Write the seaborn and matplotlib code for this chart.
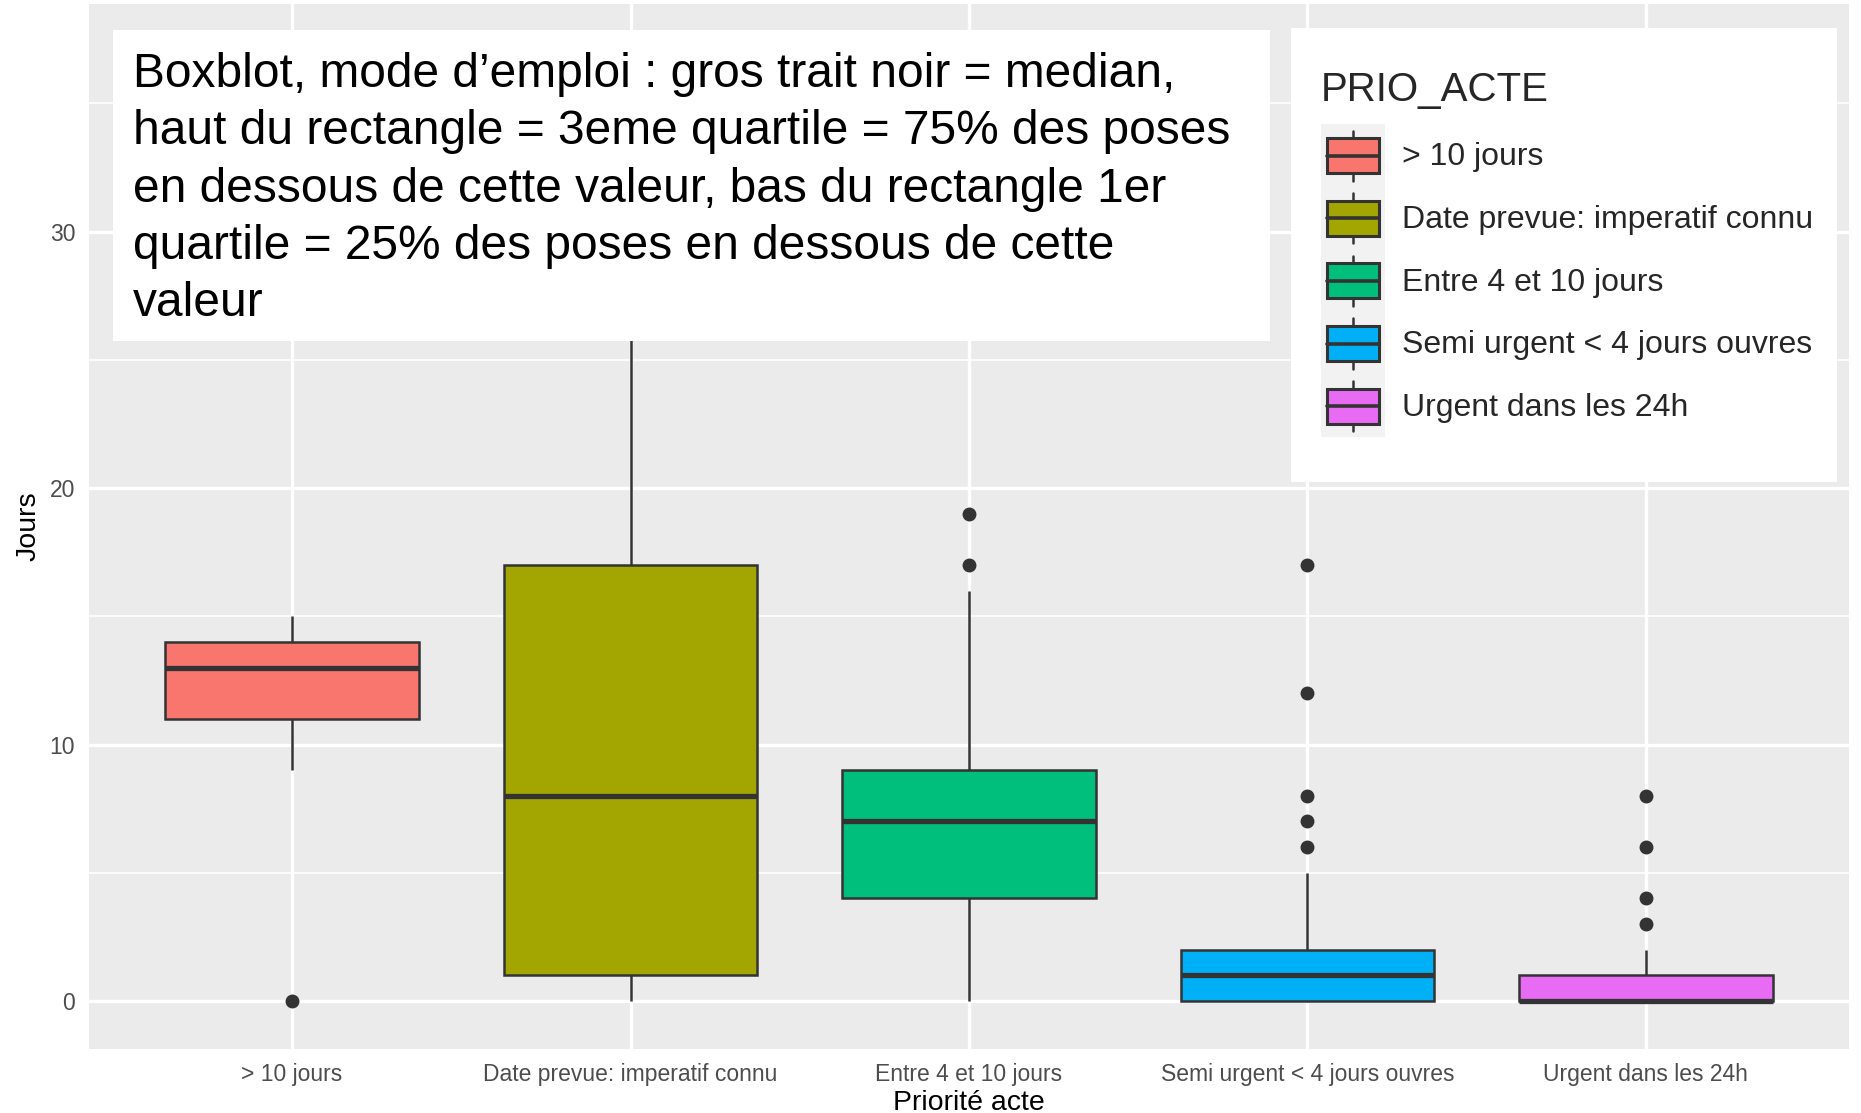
import pandas as pd
import matplotlib
matplotlib.use("Agg")
import matplotlib.pyplot as plt
from matplotlib.patches import Rectangle, Patch
from matplotlib.lines import Line2D
from matplotlib.legend_handler import HandlerBase
from matplotlib.ticker import MultipleLocator
import seaborn as sns

# categories (PRIO_ACTE) and raw delays in days, read from the box/whisker/outlier positions
categories = ["> 10 jours", "Date prevue: imperatif connu", "Entre 4 et 10 jours",
              "Semi urgent < 4 jours ouvres", "Urgent dans les 24h"]
jours_sup10 = [0, 9, 11, 11, 13, 13, 14, 14, 14, 15]
jours_date_prevue = [0, 1, 1, 4, 8, 12, 17, 25, 37]
jours_entre_4_10 = [0, 2, 3, 4, 5, 6, 7, 8, 9, 9, 16, 17, 19]
jours_semi_urgent = [0, 0, 0, 0, 0, 0, 0, 1, 1, 1, 1, 1, 1,
                     2, 2, 2, 2, 2, 2, 5, 6, 7, 8, 12, 17]
jours_urgent = [0, 0, 0, 0, 0, 0, 0, 0, 0, 0, 0, 1, 1, 1, 1, 1, 2, 3, 4, 6, 8]
colors = ["#F8766D", "#A3A500", "#00BF7D", "#00B0F6", "#E76BF3"]

note = ("Boxblot, mode d\u2019emploi : gros trait noir = median,\n"
        "haut du rectangle = 3eme quartile = 75% des poses\n"
        "en dessous de cette valeur, bas du rectangle 1er\n"
        "quartile = 25% des poses en dessous de cette\n"
        "valeur")


class BoxKey(HandlerBase):
    def create_artists(self, legend, orig_handle, xdescent, ydescent,
                       width, height, fontsize, trans):
        x0, y0 = -xdescent, -ydescent
        cx = x0 + width / 2
        bg = Rectangle((x0, y0), width, height, facecolor="#F2F2F2",
                       edgecolor="none", transform=trans)
        wh = Line2D([cx, cx], [y0 + 0.1 * height, y0 + 0.9 * height],
                    color="#333333", lw=1.8, transform=trans)
        box = Rectangle((x0 + 0.1 * width, y0 + 0.22 * height), 0.8 * width,
                        0.56 * height, facecolor=orig_handle.get_facecolor(),
                        edgecolor="#333333", lw=2.2, transform=trans)
        med = Line2D([x0 + 0.1 * width, x0 + 0.9 * width],
                     [y0 + height / 2, y0 + height / 2],
                     color="#333333", lw=2.6, transform=trans)
        return [bg, wh, box, med]


def main():
    series = [jours_sup10, jours_date_prevue, jours_entre_4_10,
              jours_semi_urgent, jours_urgent]
    rows = []
    for cat, vals in zip(categories, series):
        for v in vals:
            rows.append({"PRIO_ACTE": cat, "Jours": v})
    df = pd.DataFrame(rows)

    sns.set_theme(style="darkgrid", rc={
        "axes.facecolor": "#EBEBEB",
        "grid.color": "white",
        "figure.facecolor": "white",
    })
    plt.rcParams["font.family"] = ["Liberation Sans", "DejaVu Sans"]

    fig = plt.figure(figsize=(18.61, 11.13), dpi=100)
    ax = fig.add_axes([89 / 1861, 1 - 1049 / 1113, (1849 - 89) / 1861, (1049 - 4) / 1113])

    sns.boxplot(data=df, x="PRIO_ACTE", y="Jours", hue="PRIO_ACTE",
                order=categories, hue_order=categories, palette=colors,
                saturation=1, width=0.75, linecolor="#333333", linewidth=1.8,
                whis=1.5, showcaps=False, legend=False,
                medianprops=dict(linewidth=3.8, color="#333333"),
                flierprops=dict(marker="o", markerfacecolor="#333333",
                                markeredgecolor="#333333", markersize=9),
                ax=ax)

    ax.set_xlim(-0.6, 4.6)
    ax.set_ylim(-1.87, 38.87)
    ax.yaxis.set_major_locator(MultipleLocator(10))
    ax.yaxis.set_minor_locator(MultipleLocator(5))
    ax.grid(which="major", color="white", linewidth=2.4)
    ax.grid(which="minor", axis="y", color="white", linewidth=1.2)
    ax.set_axisbelow(True)
    for s in ax.spines.values():
        s.set_visible(False)
    ax.tick_params(axis="both", which="major", length=6, width=1.5,
                   color="#333333", labelcolor="#4D4D4D", labelsize=16.5, pad=4)
    ax.tick_params(axis="both", which="minor", length=0)
    ax.set_xlabel("Priorit\u00e9 acte", fontsize=20.5, color="black", labelpad=3)
    ax.set_ylabel("Jours", fontsize=20.5, color="black", labelpad=6)

    # annotation box laid over the panel
    fig.patches.append(Rectangle((113 / 1861, 1 - 341 / 1113), (1270 - 113) / 1861,
                                 (341 - 30) / 1113, transform=fig.transFigure,
                                 facecolor="white", edgecolor="none", zorder=5))
    fig.text(133 / 1861, 1 - 52 / 1113, note, fontsize=34.5, color="black",
             va="top", ha="left", linespacing=1.35, zorder=6)

    # legend background box
    fig.patches.append(Rectangle((1291 / 1861, 1 - 482 / 1113), (1837 - 1291) / 1861,
                                 (482 - 28) / 1113, transform=fig.transFigure,
                                 facecolor="white", edgecolor="none", zorder=5))
    handles = [Patch(facecolor=c) for c in colors]
    leg = fig.legend(handles, categories, title="PRIO_ACTE",
                     loc="upper left", bbox_to_anchor=(1321 / 1861, 1 - 71 / 1113),
                     borderaxespad=0, borderpad=0, fontsize=23,
                     title_fontsize=29, frameon=False,
                     handler_map={Patch: BoxKey()}, handlelength=2.0,
                     handleheight=2.64, labelspacing=0, handletextpad=0.55,
                     alignment="left")
    leg._legend_box.sep = 11
    leg.set_zorder(7)

    fig.savefig("out.png", dpi=100)


if __name__ == "__main__":
    main()
